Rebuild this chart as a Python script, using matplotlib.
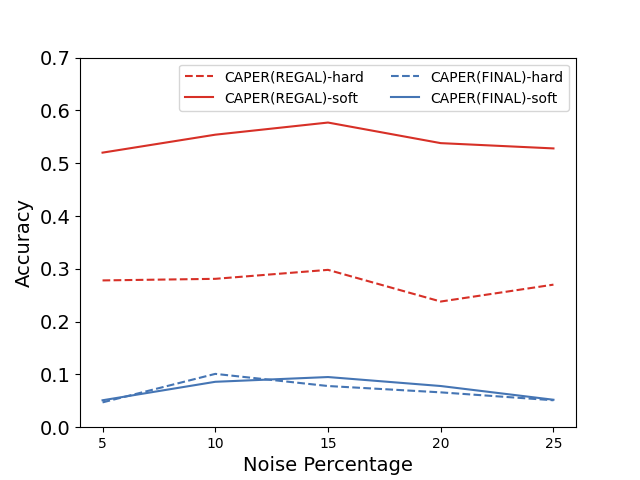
import matplotlib
matplotlib.use("Agg")
import matplotlib.pyplot as plt

noise = [5, 10, 15, 20, 25]
regal_hard = [0.278, 0.281, 0.298, 0.238, 0.270]
regal_soft = [0.520, 0.554, 0.577, 0.538, 0.528]
final_hard = [0.047, 0.101, 0.078, 0.066, 0.051]
final_soft = [0.051, 0.086, 0.095, 0.078, 0.052]

red = "#d73027"
blue = "#4575b4"

fig, ax = plt.subplots(figsize=(6.4, 4.8), dpi=100)
ax.plot(noise, regal_hard, "--", color=red, label="CAPER(REGAL)-hard")
ax.plot(noise, regal_soft, "-", color=red, label="CAPER(REGAL)-soft")
ax.plot(noise, final_hard, "--", color=blue, label="CAPER(FINAL)-hard")
ax.plot(noise, final_soft, "-", color=blue, label="CAPER(FINAL)-soft")

ax.set_ylim(0, 0.7)
ax.set_xticks(noise)
ax.tick_params(axis="y", labelsize=14)
ax.tick_params(axis="x", labelsize=10)
ax.set_xlabel("Noise Percentage", fontsize=14)
ax.set_ylabel("Accuracy", fontsize=14)
ax.legend(loc="upper right", ncol=2, fontsize=10)

fig.savefig("out.png", dpi=100)
